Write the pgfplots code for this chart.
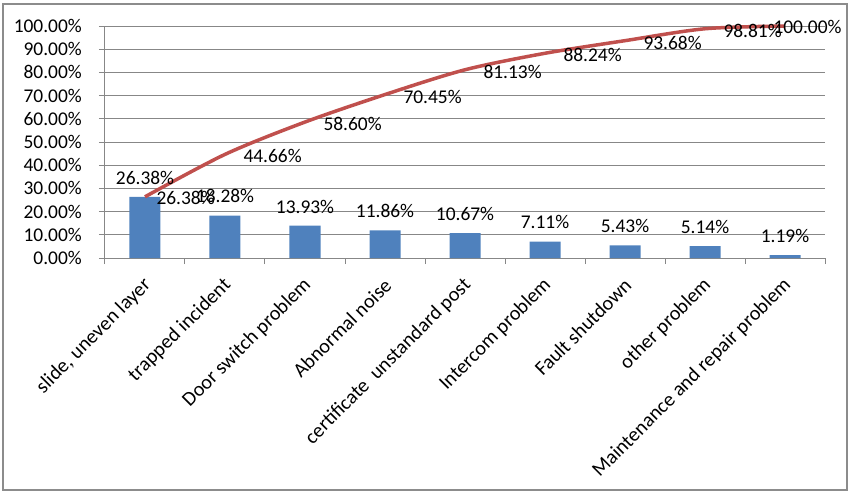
\documentclass[border=0pt]{standalone}
\usepackage{pgfplots}
\pgfplotsset{compat=1.18}
\usepackage{fontspec}
\setmainfont{Carlito}
\definecolor{barblue}{HTML}{4F81BD}
\definecolor{linered}{HTML}{C0504D}
\definecolor{gridgray}{HTML}{878787}
\definecolor{framegray}{HTML}{8C8C8C}
\begin{document}
\begin{tikzpicture}[font=\fontsize{19.5}{22}\selectfont]
\begin{axis}[
  at={(0,0)}, anchor=south west,
  width=720bp, height=232bp, scale only axis,
  xmin=0.5, xmax=9.5, ymin=0, ymax=100,
  clip=false,
  axis x line*=bottom, axis y line*=left,
  axis line style={gridgray, line width=1bp, -},
  tick align=outside,
  major tick length=6bp,
  tick style={gridgray, line width=1bp},
  ytick={0,10,...,100},
  ymajorgrids, major grid style={gridgray, line width=1bp},
  /pgf/number format/assume math mode=true,
  yticklabel={\pgfmathprintnumber[fixed,fixed zerofill,precision=2]{\tick}\%},
  yticklabel style={anchor=east, inner sep=0pt, xshift=-17bp},
  xtick={0.5,1.5,...,9.5},
  xticklabels={},
  extra x ticks={1,2,3,4,5,6,7,8,9},
  extra x tick labels={slide{,} uneven layer, trapped incident, Door switch problem, Abnormal noise, certificate\ \ unstandard post, Intercom problem, Fault shutdown, other problem, Maintenance and repair problem},
  extra x tick style={major tick length=0pt, xticklabel style={font=\fontsize{20.3}{22}\selectfont, xshift=3bp, yshift=-24bp, rotate=45, anchor=east, inner sep=0pt}},
]
\addplot[ybar, bar width=31bp, fill=barblue, draw=none,
  nodes near coords={\pgfmathprintnumber[fixed,fixed zerofill,precision=2]{\pgfplotspointmeta}\%},
  every node near coord/.append style={anchor=south, yshift=9bp, text=black}]
  coordinates {(1,26.38) (2,18.28) (3,13.93) (4,11.86) (5,10.67) (6,7.11) (7,5.43) (8,5.14) (9,1.19)};
\addplot[linered, line width=3.5bp, smooth, mark=none]
  coordinates {(1,26.38) (2,44.66) (3,58.60) (4,70.45) (5,81.13) (6,88.24) (7,93.68) (8,98.81) (9,100.00)};
\addplot[draw=none, mark=none,
  nodes near coords={\pgfmathprintnumber[fixed,fixed zerofill,precision=2]{\pgfplotspointmeta}\%},
  every node near coord/.append style={anchor=west, xshift=8bp, yshift=-1bp, text=black}]
  coordinates {(1,26.38)};
\addplot[draw=none, mark=none,
  nodes near coords={\pgfmathprintnumber[fixed,fixed zerofill,precision=2]{\pgfplotspointmeta}\%},
  every node near coord/.append style={anchor=west, xshift=15bp, yshift=-2bp, text=black}]
  coordinates {(2,44.66) (3,58.60) (4,70.45) (5,81.13) (6,88.24) (7,93.68) (8,98.81)};
\addplot[draw=none, mark=none,
  nodes near coords={\pgfmathprintnumber[fixed,fixed zerofill,precision=2]{\pgfplotspointmeta}\%},
  every node near coord/.append style={anchor=west, xshift=-15bp, yshift=-1bp, text=black}]
  coordinates {(9,100.00)};
\end{axis}
\draw[framegray, line width=2bp] (-102bp,-232bp) rectangle (742bp,254bp);
\pgfresetboundingbox
\useasboundingbox (-105bp,-234bp) rectangle (752bp,258bp);
\end{tikzpicture}
\end{document}
